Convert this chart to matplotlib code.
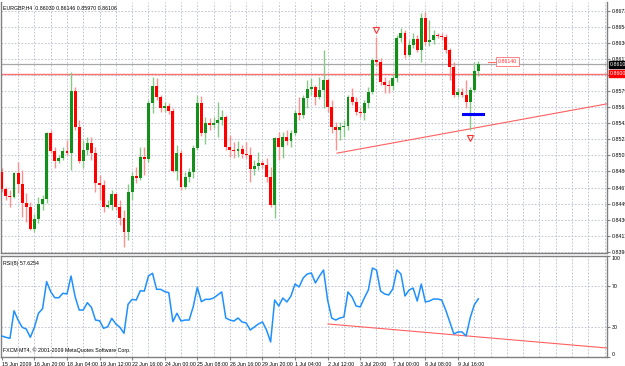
import matplotlib
matplotlib.use("Agg")
import matplotlib.pyplot as plt
import numpy as np

plt.rcParams["font.family"] = ["Liberation Sans", "DejaVu Sans"]

# EURGBP H4 bars, prices in points (1e-5)
open_pts = [84861, 84664, 84582, 84571, 84849, 84721, 84501, 84455, 84200, 84316,
            84490, 84548, 85312, 85104, 84988, 85023, 85104, 85081, 85799, 85382,
            84988, 85116, 85197, 85081, 84733, 84710, 84455, 84478, 84606, 84455,
            84328, 84165, 84629, 84814, 84791, 85034, 85011, 85660, 85857, 85730,
            85602, 85625, 85567, 84872, 85081, 84687, 84803, 84861, 85139, 85660,
            85312, 85428, 85405, 85428, 85463, 85498, 85150, 85116, 85104, 85127,
            85069, 85058, 84895, 84930, 84965, 84942, 84803, 84478, 85255, 85150,
            85266, 85220, 85312, 85544, 85521, 85718, 85823, 85846, 85730, 85811,
            85927, 85614, 85382, 85347, 85382, 85394, 85730, 85672, 85556, 85544,
            85660, 85788, 86159, 86135, 85904, 85869, 85857, 85950, 86414, 86472,
            86217, 86332, 86402, 86275, 86645, 86367, 86390, 86448, 86437, 86425,
            86275, 86078, 85753, 85788, 85753, 85672, 85811, 86030]
close_pts = [84664, 84582, 84571, 84849, 84721, 84501, 84455, 84200, 84316, 84490,
             84548, 85312, 85104, 84988, 85023, 85104, 85081, 85799, 85382, 84988,
             85116, 85197, 85081, 84733, 84710, 84455, 84478, 84606, 84455, 84328,
             84165, 84629, 84814, 84791, 85034, 85011, 85660, 85857, 85730, 85602,
             85625, 85567, 84872, 85081, 84687, 84803, 84861, 85139, 85660, 85312,
             85428, 85405, 85428, 85463, 85498, 85150, 85116, 85104, 85127, 85069,
             85058, 84895, 84930, 84965, 84942, 84803, 84478, 85255, 85150, 85266,
             85220, 85312, 85544, 85521, 85718, 85823, 85846, 85730, 85811, 85927,
             85614, 85382, 85347, 85382, 85394, 85730, 85672, 85556, 85544, 85660,
             85788, 86159, 86135, 85904, 85869, 85857, 85950, 86414, 86472, 86217,
             86332, 86402, 86275, 86645, 86367, 86390, 86448, 86437, 86425, 86275,
             86078, 85753, 85788, 85753, 85672, 85811, 86031, 86106]
high_pts = [84907, 84687, 84652, 84861, 84976, 84884, 84617, 84513, 84374, 84571,
            84594, 85324, 85347, 85150, 85058, 85150, 85231, 86020, 85846, 85463,
            85231, 85266, 85266, 85150, 84826, 84768, 84536, 84652, 84617, 84536,
            84420, 84721, 84861, 84919, 85150, 85150, 85695, 85962, 85950, 85753,
            85672, 85660, 85602, 85173, 85116, 84861, 84907, 85173, 85753, 85741,
            85498, 85486, 85498, 85672, 85579, 85521, 85289, 85208, 85220, 85173,
            85208, 85150, 85000, 85092, 85000, 85023, 84919, 85266, 85324, 85324,
            85347, 85347, 85579, 85730, 85753, 85927, 85950, 85869, 85962, 86275,
            85950, 85695, 85440, 85440, 85463, 85753, 85834, 85730, 85614, 85695,
            85846, 86182, 86425, 86182, 85962, 85927, 85985, 86448, 86530, 86506,
            86390, 86472, 86448, 86703, 86715, 86622, 86506, 86472, 86472, 86460,
            86298, 86135, 85834, 85834, 85927, 85846, 86135, 86146]
low_pts = [84629, 84536, 84455, 84559, 84617, 84339, 84281, 84188, 84165, 84269,
           84420, 84501, 85081, 84907, 84965, 85000, 85058, 84884, 85347, 84965,
           84907, 85058, 85000, 84629, 84536, 84397, 84443, 84420, 84420, 84246,
           83991, 84072, 84536, 84733, 84768, 84826, 84976, 85544, 85695, 85556,
           85556, 85533, 84861, 84768, 84652, 84664, 84745, 84791, 85116, 85278,
           85185, 85347, 85370, 85266, 85405, 85116, 85034, 85023, 85034, 85023,
           85023, 84745, 84826, 84884, 84907, 84745, 84455, 84328, 85000, 85023,
           85173, 85150, 85289, 85463, 85486, 85602, 85753, 85637, 85707, 85602,
           85556, 85312, 85116, 85231, 85266, 85347, 85637, 85521, 85498, 85463,
           85602, 85765, 86089, 85869, 85776, 85776, 85811, 85904, 86367, 86182,
           86193, 86298, 86251, 86135, 86332, 86321, 86344, 86414, 86390, 86240,
           85927, 85730, 85730, 85730, 85602, 85347, 85788, 85970]
rsi = [20.8, 19.5, 18.5, 45.8, 36.6, 29.4, 27.7, 19.5, 29.4, 43.3,
       47.8, 74.6, 64.7, 58.7, 58.7, 63.1, 62.4, 80.2, 59.7, 46.5,
       46.5, 53.8, 49.2, 36.6, 35.9, 28.4, 30.0, 38.3, 32.7, 29.4,
       23.5, 52.2, 57.1, 56.4, 65.6, 65.3, 80.2, 82.9, 67.0, 67.0,
       64.7, 63.7, 35.0, 43.3, 35.6, 36.6, 36.6, 49.8, 69.0, 54.8,
       57.1, 57.1, 58.4, 61.4, 64.4, 38.6, 36.6, 35.6, 38.6, 34.7,
       33.7, 26.7, 29.7, 32.7, 34.7, 26.7, 14.9, 56.4, 50.5, 58.4,
       54.5, 60.4, 72.3, 69.3, 78.2, 82.2, 83.2, 73.3, 80.2, 86.1,
       56.4, 38.6, 36.6, 38.6, 39.6, 64.4, 59.4, 50.5, 49.5, 58.4,
       66.3, 88.1, 86.1, 65.3, 62.4, 61.4, 67.3, 86.1, 82.2, 60.4,
       66.3, 68.3, 55.4, 72.3, 54.5, 55.4, 57.4, 57.4, 56.4, 46.5,
       34.7, 22.8, 24.8, 24.8, 20.8, 38.6, 51.5, 57.6]

price_ticks = [0.86730, 0.86545, 0.86360, 0.86170, 0.85985, 0.85795, 0.85610, 0.85425,
               0.85236, 0.85050, 0.84865, 0.84675, 0.84490, 0.84300, 0.84115, 0.83930]
time_labels = ["15 Jun 2009", "16 Jun 20:00", "18 Jun 04:00", "19 Jun 12:00", "22 Jun 16:00",
               "24 Jun 00:00", "25 Jun 08:00", "26 Jun 16:00", "29 Jun 20:00", "1 Jul 04:00",
               "2 Jul 12:00", "3 Jul 20:00", "7 Jul 00:00", "8 Jul 08:00", "9 Jul 16:00"]
rsi_levels = [30, 70]
rsi_last = 57.6254

bid_price = 0.86106
alert_price = 0.86000
label_price = 0.86140
support_price = 0.85527
support_bars = [113.2, 118.1]
trend_bars = [82.3, 148.6]
trend_prices = [0.85077, 0.85649]
rsi_trend_bars = [80.1, 148.6]
rsi_trend_vals = [32.7, 8.9]
arrow_bars = [92, 115]
arrow_prices = [0.86506, 0.85255]

BULL = "#12901a"
BEAR = "#ff0000"
GRID = "#b7bccb"
FRAME = "#808080"
FS = 3.8

o = np.array(open_pts) / 1e5
c = np.array(close_pts) / 1e5
h = np.array(high_pts) / 1e5
l = np.array(low_pts) / 1e5
x = np.arange(len(c))

W, H = 625, 366
fig = plt.figure(figsize=(W / 100, H / 100), dpi=100)
ax = fig.add_axes([1 / W, 1 - 253 / H, 606 / W, 251 / H])
ax2 = fig.add_axes([1 / W, 1 - 357 / H, 606 / W, 101 / H])

xlim = (-0.2, 148.6)
grid_bars = np.arange(4, 149, 4)

# ---- price panel
ax.set_xlim(*xlim)
ax.set_ylim(0.83918, 0.86831)
for p in price_ticks:
    ax.axhline(p, color=GRID, lw=0.6, ls=(0, (2, 2)), zorder=0)
for g in grid_bars:
    ax.axvline(g, color=GRID, lw=0.6, ls=(0, (2, 2)), zorder=0)

up = c >= o
wick_col = np.where(up, "#86c886", "#ff9090")
ax.vlines(x, l, h, colors=wick_col, lw=1.0, zorder=2)
body_lo = np.minimum(o, c)
body_h = np.maximum(np.abs(c - o), 0.00003)
ax.bar(x, body_h, bottom=body_lo, width=0.72, color=np.where(up, BULL, BEAR),
       linewidth=0, zorder=3)

ax.axhline(bid_price, color="#a8a8a8", lw=0.9, zorder=1)
ax.axhline(alert_price, color="#ff7070", lw=1.0, zorder=1)
ax.plot(trend_bars, trend_prices, color="#ff6060", lw=0.8, zorder=1)
ax.plot(support_bars, [support_price] * 2, color="#0000ff", lw=2.2, zorder=4)
ax.plot(arrow_bars, arrow_prices, ls="none", marker="v", ms=4, mfc="white",
        mec="#ff3030", mew=0.8, zorder=5)
ax.plot([119.5, 121.6], [label_price] * 2, color="#ff7070", lw=0.8)
ax.text(121.8, label_price, f"{label_price:.5f}", fontsize=FS, color="#ff3030",
        va="center", ha="left",
        bbox=dict(boxstyle="square,pad=0.3", fc="white", ec="#ff7070", lw=0.6))

# the 0.85985 level sits behind the alert price box, so its text is not shown
hidden = {0.85985}
ax.yaxis.tick_right()
ax.set_yticks(price_ticks)
ax.set_yticklabels(["" if p in hidden else f"{p:.5f}" for p in price_ticks])
ax.tick_params(axis="y", length=2, pad=1.2, labelsize=FS, color=FRAME)
ax.set_xticks([])
ax.text(1.005, bid_price, f"{bid_price:.5f}", transform=ax.get_yaxis_transform(),
        fontsize=FS, color="white", va="center", ha="left", clip_on=False, zorder=10,
        bbox=dict(boxstyle="square,pad=0.25", fc="black", ec="black"))
ax.text(1.005, alert_price, f"{alert_price:.5f}", transform=ax.get_yaxis_transform(),
        fontsize=FS, color="white", va="center", ha="left", clip_on=False, zorder=10,
        bbox=dict(boxstyle="square,pad=0.25", fc="#ff0000", ec="#ff0000"))
ax.text(0.004, 0.988, f"EURGBP,H4  {o[-1]:.5f} {h[-1]:.5f} {l[-1]:.5f} {c[-1]:.5f}",
        transform=ax.transAxes, fontsize=FS, va="top", ha="left")

# ---- RSI panel
ax2.set_xlim(*xlim)
ax2.set_ylim(0, 100)
for g in grid_bars:
    ax2.axvline(g, color=GRID, lw=0.6, ls=(0, (2, 2)), zorder=0)
for lv in rsi_levels:
    ax2.axhline(lv, color=GRID, lw=0.6, ls=(0, (2, 2)), zorder=0)
ax2.plot(x, rsi, color="#1e90ff", lw=1.1, zorder=3)
ax2.plot(rsi_trend_bars, rsi_trend_vals, color="#ff6060", lw=0.8, zorder=2)
ax2.yaxis.tick_right()
ax2.set_yticks([0, 30, 70, 100])
ax2.set_yticklabels(["0", "30", "70", "100"])
ax2.tick_params(axis="y", length=2, pad=1.5, labelsize=FS, color=FRAME)
lbls = ax2.get_yticklabels()
lbls[0].set_va("bottom")
lbls[-1].set_va("top")
ax2.set_xticks(np.arange(len(time_labels)) * 8)
ax2.set_xticklabels(time_labels, ha="left")
ax2.tick_params(axis="x", length=2, pad=1.5, labelsize=FS, color=FRAME)
ax2.text(0.004, 0.955, f"RSI(8) {rsi_last:.4f}", transform=ax2.transAxes, fontsize=FS,
         va="top", ha="left")
ax2.text(0.004, 0.035, "FXCM MT4, \u00a9 2001-2009 MetaQuotes Software Corp.",
         transform=ax2.transAxes, fontsize=FS, va="bottom", ha="left")

for a in (ax, ax2):
    for s in a.spines.values():
        s.set_color(FRAME)
        s.set_linewidth(1.0)
ax.spines["top"].set_visible(False)

fig.savefig("out.png", dpi=100)
